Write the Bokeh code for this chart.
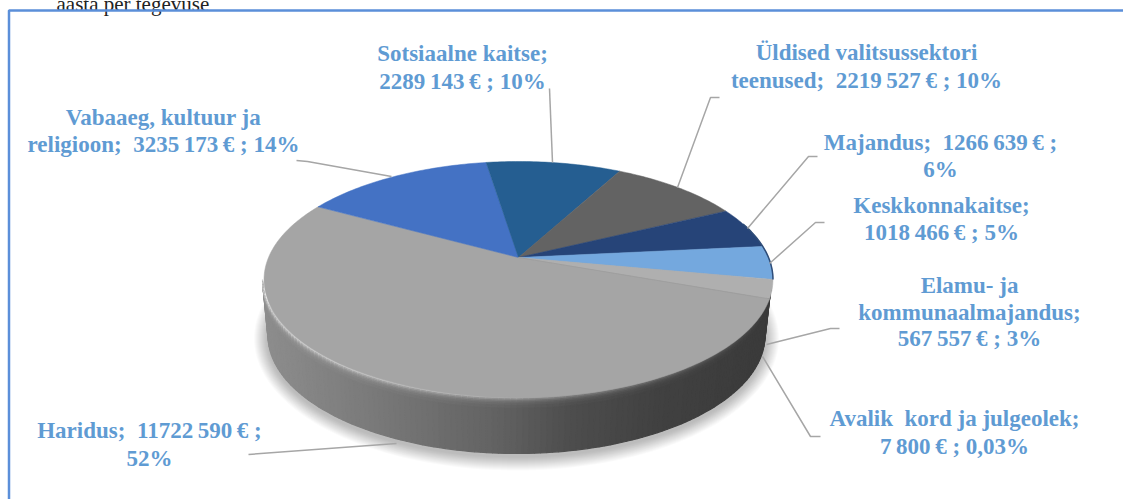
import numpy as np
from bokeh.plotting import figure
from bokeh.embed import file_html
from bokeh.resources import INLINE
from bokeh.core.properties import value

# ---- data ----
categories = ["Haridus", "Vabaaeg, kultuur ja religioon", "Sotsiaalne kaitse",
              "Üldised valitsussektori teenused", "Majandus", "Keskkonnakaitse",
              "Elamu- ja kommunaalmajandus", "Avalik kord ja julgeolek"]
amounts = [11722590, 3235173, 2289143, 2219527, 1266639, 1018466, 567557, 7800]
label_lines = [
    ["Haridus;\u00a0 11722\u2009590\u2009€ ;", "52%"],
    ["Vabaaeg, kultuur ja", "religioon;\u00a0 3235\u2009173\u2009€ ; 14%"],
    ["Sotsiaalne kaitse;", "2289\u2009143\u2009€ ; 10%"],
    ["Üldised valitsussektori", "teenused;\u00a0 2219\u2009527\u2009€ ; 10%"],
    ["Majandus;\u00a0 1266\u2009639\u2009€ ;", "6%"],
    ["Keskkonnakaitse;", "1018\u2009466\u2009€ ; 5%"],
    ["Elamu- ja", "kommunaalmajandus;", "567\u2009557\u2009€ ; 3%"],
    ["Avalik\u00a0 kord ja julgeolek;", "7\u2009800\u2009€ ; 0,03%"],
]

# ---- styles and layout ----
colors = ["#a5a5a5", "#4472c4", "#255e91", "#636363", "#264478", "#74a8de", "#afafaf", "#9a9a9a"]
text_color = "#5f9bd3"
label_x = [149, 163, 462, 866, 940, 941, 969, 954]
label_y = [[430, 458], [117, 144], [53, 81], [52, 80], [142, 169], [205, 232], [285, 312, 338], [418, 446]]
leaders = [
    ([396, 248], [443, 454]),
    ([391, 307, 296], [176, 161, 160]),
    ([552, 549], [162, 88]),
    ([677, 710, 719], [187, 97, 97]),
    ([747, 808, 817], [228, 156, 156]),
    ([769, 815, 824], [263, 222, 222]),
    ([766, 830, 839], [344, 328, 328]),
    ([762, 810, 820], [356, 436, 436]),
]
APEX_X, APEX_Y = 518.0, 257.0
SCALE_A, SCALE_B, PERSP = 250.0, 113.9, 0.1864
START_DEG = -20.0
CX, CY, RX, RY = 516.5, 279.0, 254.5, 118.0     # projected rim
BCX, BCY, BRX, BRY = 516.0, 335.0, 248.5, 118.0  # bottom edge of the wall

def project(deg):
    t = np.radians(deg)
    u, v = np.cos(t), np.sin(t)
    d = 1 + PERSP * v
    return APEX_X + SCALE_A * u / d, APEX_Y - SCALE_B * v / d

p = figure(width=1123, height=499, x_range=(0, 1123), y_range=(499, 0),
           toolbar_location=None, output_backend="svg", min_border=0,
           margin=0)
p.axis.visible = False
p.grid.visible = False
p.outline_line_color = None
p.background_fill_color = "white"
p.border_fill_color = "white"

# text cut off by the crop, above the frame
p.text([56], [3], text=["aasta per tegevuse"], text_font=value("Liberation Serif"),
       text_font_size="21px", text_color="#222222", text_baseline="alphabetic")
# frame
p.line([8.5, 8.5, 1123], [499, 10, 10], line_color="#5b8fd9", line_width=2.5)

# soft shadow
ph = np.linspace(0, 2 * np.pi, 160)
for k in range(14, 0, -1):
    p.patch(BCX + (BRX + k) * np.cos(ph), BCY + 3 + (BRY + k) * np.sin(ph),
            fill_color="#000000", fill_alpha=0.018, line_color=None)

# side wall, shaded with columns and rows
stop_x = [262, 350, 500, 570, 660, 772]
stop_g = [140, 124, 96, 76, 64, 58]
rim_g = [205, 195, 175, 150, 120, 90]
n_cols = 130
depths = [0, 1.5, 3, 4.5, 6, 8, 11]
phis = np.linspace(np.pi, 2 * np.pi, n_cols + 1)
wall_x, wall_y, wall_c = [], [], []
for i in range(n_cols):
    a, b = phis[i], phis[i + 1]
    tx0, ty0 = CX + RX * np.cos(a), CY - RY * np.sin(a)
    tx1, ty1 = CX + RX * np.cos(b), CY - RY * np.sin(b)
    bx0, by0 = BCX + BRX * np.cos(a), BCY - BRY * np.sin(a)
    bx1, by1 = BCX + BRX * np.cos(b), BCY - BRY * np.sin(b)
    xm = (tx0 + tx1) / 2
    base, rim = np.interp(xm, stop_x, stop_g), np.interp(xm, stop_x, rim_g)
    L0, L1 = np.hypot(bx0 - tx0, by0 - ty0), np.hypot(bx1 - tx1, by1 - ty1)
    for j in range(len(depths)):
        d0 = depths[j]
        d1 = depths[j + 1] if j + 1 < len(depths) else None
        f00, f01 = min(d0 / L0, 1), min(d0 / L1, 1)
        f10, f11 = (1.0, 1.0) if d1 is None else (min(d1 / L0, 1), min(d1 / L1, 1))
        wall_x.append([tx0 + (bx0 - tx0) * f00, tx1 + (bx1 - tx1) * f01,
                       tx1 + (bx1 - tx1) * f11, tx0 + (bx0 - tx0) * f10])
        wall_y.append([ty0 + (by0 - ty0) * f00, ty1 + (by1 - ty1) * f01,
                       ty1 + (by1 - ty1) * f11, ty0 + (by0 - ty0) * f10])
        w = np.exp(-d0 / 3.0)
        g = int(base * (1 - w) + rim * w)
        wall_c.append(f"#{g:02x}{g:02x}{g:02x}")
p.patches(wall_x, wall_y, fill_color=wall_c, line_color=wall_c, line_width=1.2)

# top surface: one wedge per amount, clockwise from the start angle
fractions = np.array(amounts, dtype=float) / sum(amounts)
edges = START_DEG - 360.0 * np.concatenate([[0], np.cumsum(fractions)])
for i in range(len(amounts)):
    arc = np.linspace(edges[i], edges[i + 1], max(int(abs(edges[i + 1] - edges[i])) + 2, 2))
    xs, ys = project(arc)
    p.patch(np.r_[APEX_X, xs], np.r_[APEX_Y, ys], fill_color=colors[i],
            line_color=colors[i], line_width=0.5)

# dark thin edge along the right rim of the blue wedges
arc = np.linspace(edges[4] - 8, edges[6], 30)
xs, ys = project(arc)
p.line(xs, ys, line_color="#2f4d78", line_width=1.5)

# leader lines
p.multi_line([l[0] for l in leaders], [l[1] for l in leaders],
             line_color="#a6a6a6", line_width=1.5)

# labels
for lx, ly, lines in zip(label_x, label_y, label_lines):
    p.text([lx] * len(lines), ly, text=lines, text_font=value("Liberation Serif"),
           text_font_style="bold", text_font_size="23px", text_color=text_color,
           text_align="center", text_baseline="middle")

open("out.html", "w").write(file_html(p, INLINE))
